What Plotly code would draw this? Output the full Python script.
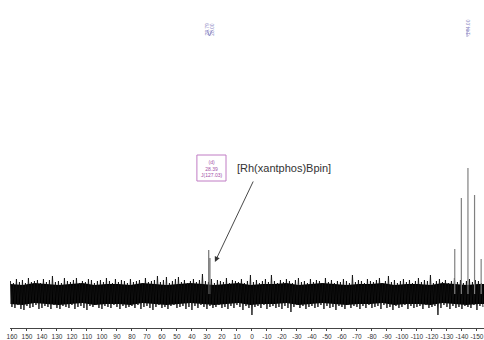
import plotly.graph_objects as go

# ---- data (ppm, intensity in arbitrary units; baseline = 0) ----
noise_hi = [13, 11, 15, 12, 14, 11, 16, 12, 13, 14,
            11, 15, 12, 14, 18, 12, 13, 11, 16, 13,
            12, 14, 16, 11, 13, 12, 15, 14, 11, 13,
            14, 12, 16, 13, 11, 15, 12, 14, 13, 11,
            15, 12, 13, 14, 11, 16, 12, 13, 14, 18,
            12, 14, 17, 11, 13, 15, 17, 12, 14, 11,
            13, 15, 12, 14, 20, 13, 12, 15, 11, 14,
            13, 12, 16, 11, 14, 13, 12, 15, 11, 13,
            19, 12, 14, 11, 13, 15, 12, 19, 13, 11,
            14, 12, 15, 13, 11, 14, 16, 12, 13, 11,
            15, 12, 14, 13, 11, 16, 12, 14, 11, 13,
            12, 15, 13, 11, 19, 12, 14, 13, 11, 15,
            13, 12, 14, 16, 11, 13, 18, 12, 14, 11,
            13, 15, 12, 14, 11, 13, 16, 12, 14, 13,
            19, 11, 13, 15, 12, 14, 11, 13, 16, 12,
            14, 11, 13, 15, 12, 14, 13, 11]
noise_lo = [-13, -14, -11, -15, -16, -12, -14, -13, -11, -15,
            -14, -12, -13, -15, -11, -14, -15, -12, -13, -14,
            -11, -15, -13, -12, -14, -16, -12, -13, -11, -14,
            -15, -12, -13, -14, -11, -13, -15, -12, -14, -13,
            -12, -14, -11, -15, -13, -12, -14, -16, -13, -11,
            -14, -13, -15, -12, -11, -14, -13, -12, -15, -13,
            -16, -12, -14, -11, -13, -15, -12, -14, -13, -11,
            -14, -13, -15, -12, -14, -11, -13, -16, -12, -14,
            -21, -13, -12, -14, -11, -15, -13, -12, -14, -13,
            -15, -12, -14, -18, -13, -11, -14, -12, -15, -13,
            -12, -14, -13, -11, -15, -12, -14, -13, -16, -12,
            -13, -15, -11, -14, -12, -13, -15, -12, -14, -11,
            -14, -13, -12, -15, -11, -14, -13, -16, -12, -14,
            -13, -11, -15, -12, -14, -13, -12, -15, -11, -14,
            -13, -12, -21, -14, -11, -13, -15, -12, -14, -13,
            -15, -12, -13, -14, -11, -16, -12, -13]
noise_start_ppm = 161
noise_step_ppm = 1

# dense core of the noise band, every 8 ppm
core_hi = [10, 9, 11, 10, 9, 10, 11, 9, 10, 10, 9, 11, 10, 9, 10, 11, 10, 9, 10, 11,
           9, 10, 10, 11, 9, 10, 11, 10, 9, 10, 10, 11, 9, 10, 10, 9, 11, 10, 9, 10, 10]
core_lo = [-10, -11, -9, -10, -11, -10, -9, -11, -10, -10, -11, -9, -10, -11, -10, -9, -10,
           -11, -10, -9, -11, -10, -10, -9, -11, -10, -9, -10, -11, -10, -10, -9, -11, -10,
           -10, -11, -9, -10, -11, -10, -10]
core_step_ppm = 8

doublet_ppm = [28.79, 28.00]
doublet_int = [44, 36]

pf6_ppm = [-135.2, -139.6, -144.0, -148.4, -152.8]
pf6_int = [45, 96, 126, 99, 35]

tick_vals = [160, 150, 140, 130, 120, 110, 100, 90, 80, 70, 60, 50, 40, 30, 20, 10,
             0, -10, -20, -30, -40, -50, -60, -70, -80, -90, -100, -110, -120, -130, -140, -150]
tick_text = [str(v) for v in tick_vals]

doublet_labels = ["28.79", "28.00"]
pf6_label = "-144.00"
mult_lines = ["(d)", "28.39", "J(127.03)"]
compound = "[Rh(xantphos)Bpin]"

# ---- build noise trace (alternating high / low points) ----
nx, ny = [], []
for i, (h, l) in enumerate(zip(noise_hi, noise_lo)):
    nx.append(noise_start_ppm - 2 * i * noise_step_ppm)
    ny.append(h)
    nx.append(noise_start_ppm - (2 * i + 1) * noise_step_ppm)
    ny.append(l)
cx = [noise_start_ppm - k * core_step_ppm for k in range(len(core_hi))]

fig = go.Figure()
fig.add_trace(go.Scatter(x=cx, y=core_lo, mode="lines", line=dict(width=0, color="black"),
                         hoverinfo="skip"))
fig.add_trace(go.Scatter(x=cx, y=core_hi, mode="lines", line=dict(width=0, color="black"),
                         fill="tonexty", fillcolor="#000000", hoverinfo="skip"))
fig.add_trace(go.Scatter(x=nx, y=ny, mode="lines",
                         line=dict(color="#111111", width=0.9), hoverinfo="skip"))

def sticks(xs, ys):
    px, py = [], []
    for x, y in zip(xs, ys):
        px += [x, x, None]
        py += [0, y, None]
    return px, py

dx, dy = sticks(doublet_ppm, doublet_int)
fig.add_trace(go.Scatter(x=dx, y=dy, mode="lines",
                         line=dict(color="#555555", width=1), hoverinfo="skip"))
sx, sy = sticks(pf6_ppm, pf6_int)
fig.add_trace(go.Scatter(x=sx, y=sy, mode="lines",
                         line=dict(color="#808080", width=1.2), hoverinfo="skip"))

PLOT_BOTTOM = 328.0   # screen y of axis line
PLOT_H = 328.0
def py_paper(screen_y):
    return (PLOT_BOTTOM - screen_y) / PLOT_H

annotations = []
shapes = []
lab_col = "#8a86c4"
d_center = sum(doublet_ppm) / 2
for k, t in enumerate(doublet_labels):
    lx = d_center + (1.5 if k == 0 else -2.0)
    annotations.append(dict(x=lx, y=py_paper(21), xref="x", yref="paper", text=t,
                            textangle=-90, showarrow=False,
                            font=dict(size=5, color=lab_col, family="Liberation Sans")))
    shapes.append(dict(type="line", xref="x", yref="paper",
                       x0=lx, y0=py_paper(30), x1=d_center, y1=py_paper(36),
                       line=dict(color=lab_col, width=0.8)))
annotations.append(dict(x=pf6_ppm[2] + 0.6, y=py_paper(18), xref="x", yref="paper",
                        text=pf6_label, textangle=-90, showarrow=False,
                        font=dict(size=5, color=lab_col, family="Liberation Sans")))
shapes.append(dict(type="line", xref="x", yref="paper",
                   x0=pf6_ppm[2] + 0.6, y0=py_paper(29), x1=pf6_ppm[2] + 0.6, y1=py_paper(37),
                   line=dict(color=lab_col, width=0.8)))

# multiplet box
purple = "#a24fa8"
shapes.append(dict(type="rect", xref="x", yref="y", x0=36.7, x1=17.3, y0=113, y1=139,
                   line=dict(color="#c07cc4", width=1)))
annotations.append(dict(x=27.0, y=126, xref="x", yref="y",
                        text="<br>".join(mult_lines), showarrow=False,
                        font=dict(size=5, color=purple, family="Liberation Sans")))
annotations.append(dict(x=(252 - 235) / 1.5, y=126, xref="x", yref="y", text=compound,
                        xanchor="left", showarrow=False,
                        font=dict(size=11, color="#333333", family="Liberation Sans")))
annotations.append(dict(x=24.7, y=32, ax=-1.3, ay=114, xref="x", yref="y",
                        axref="x", ayref="y", text="", showarrow=True,
                        arrowhead=2, arrowsize=1.2, arrowwidth=0.9, arrowcolor="#333333"))
annotations.append(dict(x=4, y=py_paper(337.5), xref="x", yref="paper", text="f1 (ppm)",
                        showarrow=False, yanchor="top",
                        font=dict(size=6, color="#666666", family="Liberation Sans")))

fig.update_layout(
    width=484, height=340,
    margin=dict(l=10, r=0, t=0, b=12),
    paper_bgcolor="white", plot_bgcolor="white",
    showlegend=False,
    shapes=shapes, annotations=annotations,
    xaxis=dict(range=[161.3, -154.7], tickmode="array", tickvals=tick_vals, ticktext=tick_text,
               tickangle=0, showline=True, linecolor="#444444", linewidth=1, ticks="outside",
               ticklen=2, tickcolor="#444444", showgrid=False, zeroline=False,
               tickfont=dict(size=6.5, color="#333333", family="Liberation Sans")),
    yaxis=dict(range=[-34, 294], visible=False, showgrid=False, zeroline=False),
)

fig.write_html("out.html", config={"displayModeBar": False},
               post_script="document.body.style.margin='0';document.body.style.overflow='hidden';")
